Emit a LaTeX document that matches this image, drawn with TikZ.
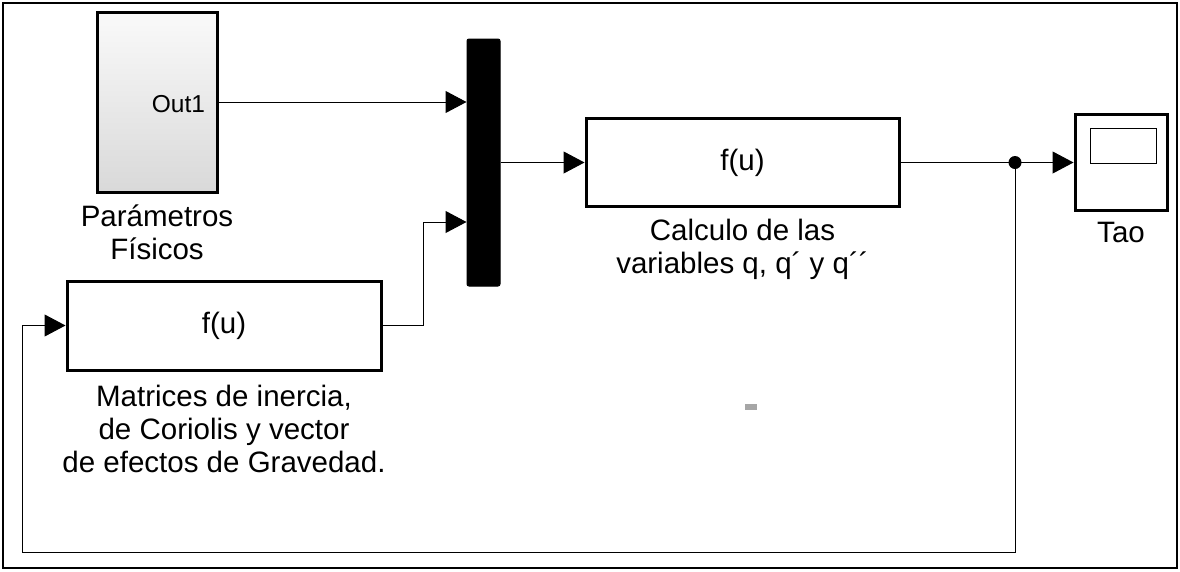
\documentclass[tikz,border=0pt]{standalone}
\usepackage{fontspec}
\setmainfont{Liberation Sans}
\usetikzlibrary{arrows.meta}

\begin{document}
\begin{tikzpicture}[x=1pt, y=-1pt, line width=1pt,
    every node/.style={font=\fontsize{29.5}{33}\selectfont},
    blk/.style={draw, line width=3pt, inner sep=0pt, fill=white},
    lbl/.style={align=center, anchor=north, inner sep=0pt},
    sig/.style={draw=black, line width=1pt, -{Triangle[length=21pt,width=22pt]}}]

\fill[white] (0,0) rectangle (1180,571);
\useasboundingbox (0,0) rectangle (1180,571);
\draw[line width=2pt] (3,3) rectangle (1177,568);

% blocks
\node[blk, minimum width=120pt, minimum height=180pt, top color=gray!4, bottom color=gray!30] (param) at (157,102) {};
\node[anchor=base east, inner sep=0pt, font=\fontsize{24.5}{28}\selectfont] (out1) at ([xshift=-13pt, yshift=-10pt]param.east) {Out1};
\node[lbl] (paramlbl) at ([yshift=-10.5pt]param.south) {Parámetros\\Físicos};

\node[draw, fill=black, rounded corners=2pt, minimum width=33pt, minimum height=247pt, inner sep=0pt] (mux) at (483.5,162.5) {};

\node[blk, minimum width=314pt, minimum height=89pt] (inercia) at (224,325.5) {f(u)};
\node[lbl] (inercialbl) at ([yshift=-13pt]inercia.south) {Matrices de inercia,\\de Coriolis y vector\\de efectos de Gravedad.};

\node[blk, minimum width=313pt, minimum height=88pt] (calculo) at (742.5,162.5) {f(u)};
\node[lbl] (calculolbl) at ([yshift=-10.5pt]calculo.south) {Calculo de las\\variables q, q´ y q´´};

\node[blk, minimum width=92pt, minimum height=96pt] (tao) at (1121,162.5) {};
\draw (1090,128) rectangle (1156,163);
\node[lbl] (taolbl) at ([yshift=-10pt]tao.south) {Tao};

\coordinate (dot) at (1015,162.5);
\fill (dot) circle (6.5pt);

% connectors
\draw[sig] (param.east) -- (param.east -| mux.west);
\draw[sig] (inercia.east) -- ++(41,0) |- ([yshift=-59.5pt]mux.west);
\draw[sig] (mux.east) -- (calculo.west);
\draw (calculo.east) -- (dot);
\draw[sig] (dot) -- (tao.west);
\draw[sig] (dot) -- ++(0,389.5) -| ([xshift=-43pt]inercia.west) -- (inercia.west);

\fill[gray!70] (745,404) rectangle (757,410);
\end{tikzpicture}
\end{document}
